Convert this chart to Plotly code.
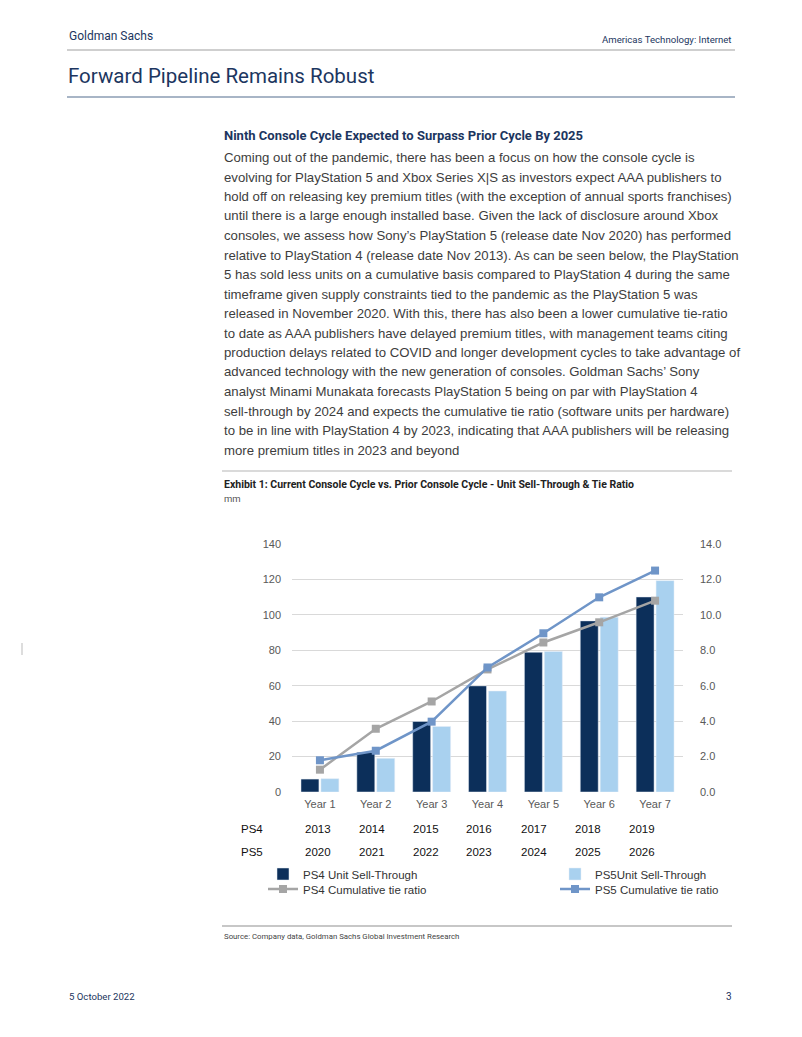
import plotly.graph_objects as go

# The page body adds an 8px margin, so the figure is drawn 8px in and sized to fit.
OFF = 8
W, H = 802 - OFF, 1037 - OFF

# ---------------- data ----------------
years = ["Year 1", "Year 2", "Year 3", "Year 4", "Year 5", "Year 6", "Year 7"]
ps4_years = ["2013", "2014", "2015", "2016", "2017", "2018", "2019"]
ps5_years = ["2020", "2021", "2022", "2023", "2024", "2025", "2026"]
ps4_units = [7.3, 22.4, 39.8, 59.9, 78.9, 96.6, 110.1]
ps5_units = [7.5, 19.0, 37.0, 57.0, 79.3, 98.7, 119.3]
ps4_tie = [1.26, 3.57, 5.11, 6.92, 8.44, 9.58, 10.8]
ps5_tie = [1.79, 2.33, 3.97, 7.03, 8.96, 10.99, 12.5]

body_lines = [
    "Coming out of the pandemic, there has been a focus on how the console cycle is",
    "evolving for PlayStation 5 and Xbox Series X|S as investors expect AAA publishers to",
    "hold off on releasing key premium titles (with the exception of annual sports franchises)",
    "until there is a large enough installed base. Given the lack of disclosure around Xbox",
    "consoles, we assess how Sony\u2019s PlayStation 5 (release date Nov 2020) has performed",
    "relative to PlayStation 4 (release date Nov 2013). As can be seen below, the PlayStation",
    "5 has sold less units on a cumulative basis compared to PlayStation 4 during the same",
    "timeframe given supply constraints tied to the pandemic as the PlayStation 5 was",
    "released in November 2020. With this, there has also been a lower cumulative tie-ratio",
    "to date as AAA publishers have delayed premium titles, with management teams citing",
    "production delays related to COVID and longer development cycles to take advantage of",
    "advanced technology with the new generation of consoles. Goldman Sachs\u2019 Sony",
    "analyst Minami Munakata forecasts PlayStation 5 being on par with PlayStation 4",
    "sell-through by 2024 and expects the cumulative tie ratio (software units per hardware)",
    "to be in line with PlayStation 4 by 2023, indicating that AAA publishers will be releasing",
    "more premium titles in 2023 and beyond",
]

# ---------------- styles ----------------
NAVY = "#1c3660"
COND = "Liberation Sans Narrow, Arial Narrow, Roboto, sans-serif"
ARIAL = "Liberation Sans, Arial, sans-serif"
C_PS4 = "#0c2f5a"
C_PS5 = "#a9d1ef"
C_PS4L = "#a5a5a5"
C_PS5L = "#6f95c8"


def px(x):
    return (x - OFF) / W


def py(y):
    return 1 - (y - OFF) / H


fig = go.Figure()
fig.add_trace(go.Bar(x=years, y=ps4_units, name="PS4 Unit Sell-Through",
                     marker_color=C_PS4, legend="legend"))
fig.add_trace(go.Bar(x=years, y=ps5_units, name="PS5Unit Sell-Through",
                     marker_color=C_PS5, legend="legend"))
fig.add_trace(go.Scatter(x=years, y=ps4_tie, yaxis="y2", mode="lines+markers",
                         name="PS4 Cumulative tie ratio",
                         line=dict(color=C_PS4L, width=2.5),
                         marker=dict(symbol="square", size=8, color=C_PS4L),
                         legend="legend2"))
fig.add_trace(go.Scatter(x=years, y=ps5_tie, yaxis="y2", mode="lines+markers",
                         name="PS5 Cumulative tie ratio",
                         line=dict(color=C_PS5L, width=2.5),
                         marker=dict(symbol="square", size=8, color=C_PS5L),
                         legend="legend2"))

ann = []


def text(x, y, s, size, color, family=ARIAL, xanchor="left", bold=False):
    if bold:
        s = "<b>" + s + "</b>"
    ann.append(dict(x=px(x), y=py(y), xref="paper", yref="paper", text=s,
                    showarrow=False, xanchor=xanchor, yanchor="middle",
                    font=dict(size=size, color=color, family=family)))


text(67, 36, "Goldman Sachs", 12, NAVY, COND)
text(734, 39, "Americas Technology: Internet", 9.6, NAVY, COND, xanchor="right")
text(66, 76, "Forward Pipeline Remains Robust", 20.5, NAVY, COND)
text(222, 136, "Ninth Console Cycle Expected to Surpass Prior Cycle By 2025", 13, NAVY, COND, bold=True)
for i, line in enumerate(body_lines):
    text(222, 157.5 + 19.5 * i, line, 13.2, "#3d3d3d")
text(222, 484, "Exhibit 1: Current Console Cycle vs. Prior Console Cycle - Unit Sell-Through &amp; Tie Ratio",
     10.5, "#222222", COND, bold=True)
text(222, 498, "mm", 9.5, "#555555", COND)

# table rows below the chart
text(239, 829, "PS4", 11.5, "#111111")
text(239, 852, "PS5", 11.5, "#111111")
for i, (a, b) in enumerate(zip(ps4_years, ps5_years)):
    text(302.5 + 54.0 * i, 829, a, 11.5, "#111111")
    text(302.5 + 54.0 * i, 852, b, 11.5, "#111111")

text(222, 936, "Source: Company data, Goldman Sachs Global Investment Research", 7.8, "#444444", COND)
text(67, 996, "5 October 2022", 9.6, NAVY, COND)
text(734, 996, "3", 10, NAVY, COND, xanchor="right")

shapes = [
    dict(type="line", xref="paper", yref="paper", x0=px(67), x1=px(735), y0=py(50), y1=py(50),
         line=dict(color="#bfbfbf", width=1.5)),
    dict(type="line", xref="paper", yref="paper", x0=px(67), x1=px(735), y0=py(97), y1=py(97),
         line=dict(color="#8b9cb3", width=1.5)),
    dict(type="line", xref="paper", yref="paper", x0=px(222), x1=px(732), y0=py(471), y1=py(471),
         line=dict(color="#b5b5b5", width=1)),
    dict(type="line", xref="paper", yref="paper", x0=px(222), x1=px(732), y0=py(926), y1=py(926),
         line=dict(color="#b5b5b5", width=1.5)),
    dict(type="line", xref="paper", yref="paper", x0=px(800.5), x1=px(800.5), y0=0, y1=1,
         line=dict(color="#9a9a9a", width=1)),
    dict(type="line", xref="paper", yref="paper", x0=px(22), x1=px(22), y0=py(643), y1=py(655),
         line=dict(color="#bbbbbb", width=1)),
]

tickfont = dict(size=11, color="#595959", family=ARIAL)
fig.update_layout(
    width=W, height=H,
    margin=dict(l=0, r=0, t=0, b=0, pad=0, autoexpand=False),
    paper_bgcolor="white", plot_bgcolor="white",
    barmode="group", bargap=0.286, bargroupgap=0.1,
    hovermode=False,
    xaxis=dict(domain=[px(292), px(683)], tickfont=tickfont, showgrid=False,
               showline=False, ticks="", ticklabelstandoff=4),
    yaxis=dict(domain=[py(792), py(544)], range=[0, 140], dtick=20, tickfont=tickfont,
               gridcolor="#d9d9d9", gridwidth=1, zeroline=False, showline=False,
               ticklabelstandoff=10),
    yaxis2=dict(overlaying="y", side="right", range=[0, 14], dtick=2, tickformat=".1f",
                tickfont=tickfont, showgrid=False, zeroline=False, showline=False,
                ticklabelstandoff=16),
    legend=dict(orientation="h", x=px(263), y=py(874), xanchor="left", yanchor="middle",
                entrywidth=247, entrywidthmode="pixels",
                font=dict(size=11.5, color="#333333", family=ARIAL), bgcolor="rgba(0,0,0,0)",
                itemclick=False),
    legend2=dict(orientation="h", x=px(263), y=py(889), xanchor="left", yanchor="middle",
                 entrywidth=247, entrywidthmode="pixels",
                 font=dict(size=11.5, color="#333333", family=ARIAL), bgcolor="rgba(0,0,0,0)",
                 itemclick=False),
    annotations=ann,
    shapes=shapes,
)

fig.write_html("out.html")
